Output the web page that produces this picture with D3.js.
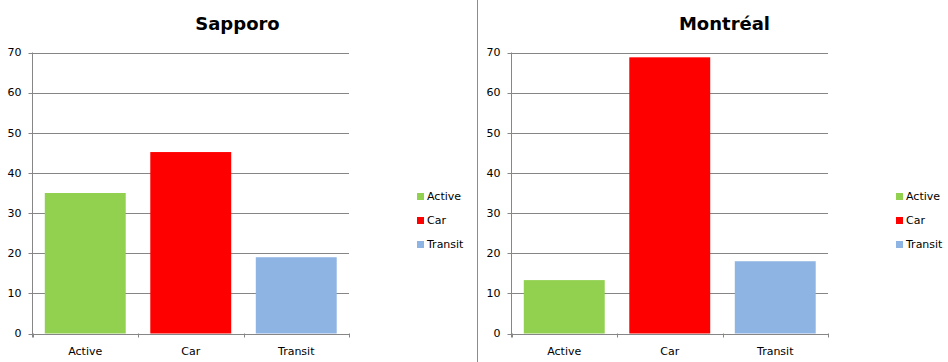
<!DOCTYPE html>
<html><head><meta charset="utf-8">
<script src="https://cdn.jsdelivr.net/npm/d3@7"></script>
<style>
html,body{margin:0;padding:0;background:#fff;}
svg{display:block;}
text{font-family:"DejaVu Sans",Verdana,sans-serif;fill:#000;}
</style></head>
<body>
<svg id="chart" width="948" height="362"></svg>
<script>
const categories = ["Active", "Car", "Transit"];
const cityNames = ["Sapporo", "Montréal"];
const sapporoValues = [35, 45.2, 19];
const montrealValues = [13.3, 68.8, 18];
const yTicks = [0, 10, 20, 30, 40, 50, 60, 70];
const colors = ["#92D050", "#FF0000", "#8EB4E3"];

(function () {
const svg = d3.select("#chart");
const gridColor = "#868686";

// divider
svg.append("line").attr("x1", 477.5).attr("x2", 477.5).attr("y1", 0).attr("y2", 362)
  .attr("stroke", "#8c8c8c").attr("stroke-width", 1);

const panels = [
  {name: cityNames[0], values: sapporoValues, left: 32.5, titleX: 237.5, legendX: 417},
  {name: cityNames[1], values: montrealValues, left: 511.5, titleX: 724.5, legendX: 896}
];

const plotW = 316.5, plotTop = 52.5, plotBottom = 333.5;

const y = d3.scaleLinear().domain([0, 70]).range([plotBottom, plotTop]);

panels.forEach(p => {
  const g = svg.append("g");
  const x = d3.scaleBand().domain(categories).range([p.left, p.left + plotW])
    .paddingInner(0.233).paddingOuter(0.1165);
  const xEdge = d3.scalePoint().domain(d3.range(categories.length + 1)).range([p.left, p.left + plotW]);

  g.append("text").attr("x", p.titleX).attr("y", 30).attr("text-anchor", "middle")
    .style("font-size", "18px").style("font-weight", "bold").text(p.name);

  g.selectAll(".grid").data(yTicks).join("line")
    .attr("x1", p.left - 4).attr("x2", p.left + plotW)
    .attr("y1", d => Math.round(y(d)) + 0.5).attr("y2", d => Math.round(y(d)) + 0.5)
    .attr("stroke", gridColor).attr("stroke-width", 1);

  g.append("line").attr("x1", p.left).attr("x2", p.left).attr("y1", plotTop).attr("y2", plotBottom + 4)
    .attr("stroke", gridColor).attr("stroke-width", 1);

  g.selectAll(".xt").data(d3.range(categories.length + 1)).join("line")
    .attr("x1", d => Math.round(xEdge(d)) + 0.5).attr("x2", d => Math.round(xEdge(d)) + 0.5)
    .attr("y1", plotBottom).attr("y2", plotBottom + 4)
    .attr("stroke", gridColor).attr("stroke-width", 1);

  g.selectAll(".yl").data(yTicks).join("text")
    .attr("x", p.left - 11).attr("y", d => y(d)).attr("dy", "0.35em")
    .attr("text-anchor", "end").style("font-size", "11px").text(d => d);

  g.selectAll(".bar").data(categories).join("rect")
    .attr("x", d => x(d)).attr("width", x.bandwidth())
    .attr("y", (d, i) => y(p.values[i])).attr("height", (d, i) => y(0) - y(p.values[i]))
    .attr("fill", (d, i) => colors[i]);

  g.selectAll(".xl").data(categories).join("text")
    .attr("x", d => x(d) + x.bandwidth() / 2).attr("y", 355)
    .attr("text-anchor", "middle").style("font-size", "11px").text(d => d);

  const lg = g.selectAll(".lg").data(categories).join("g")
    .attr("transform", (d, i) => `translate(${p.legendX},${193 + i * 24})`);
  lg.append("rect").attr("width", 7).attr("height", 7).attr("fill", (d, i) => colors[i]);
  lg.append("text").attr("x", 10).attr("y", 3.5).attr("dy", "0.35em")
    .style("font-size", "11px").text(d => d);
});
})();
</script>
</body></html>
